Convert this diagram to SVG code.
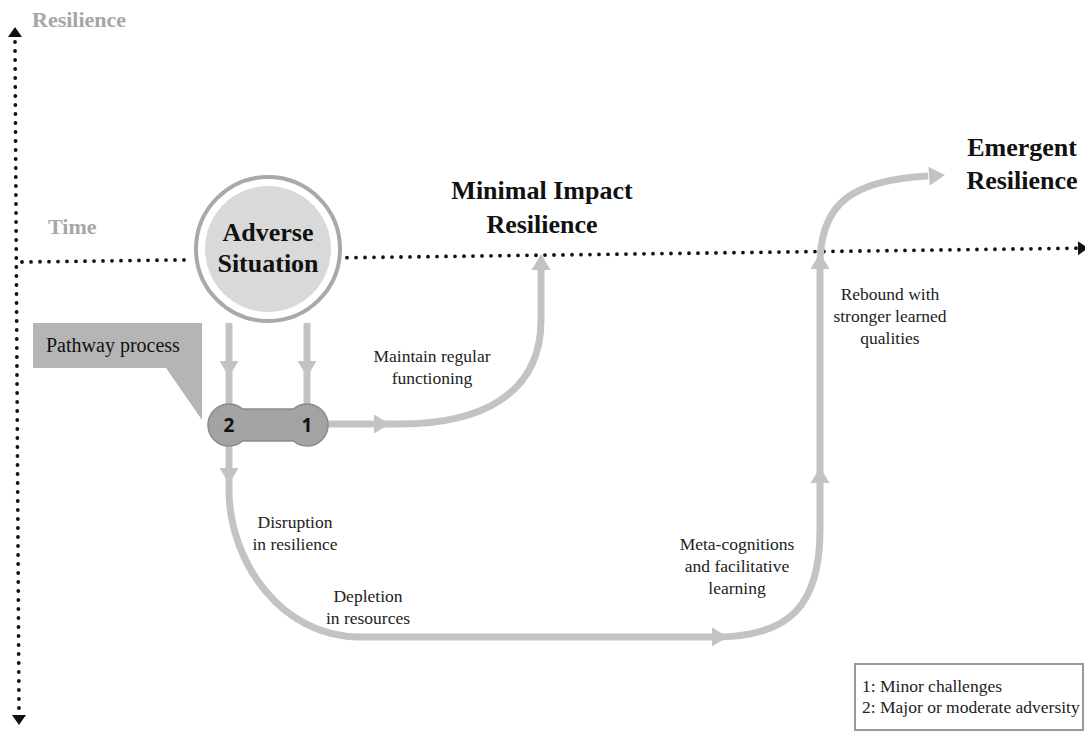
<svg xmlns="http://www.w3.org/2000/svg" width="1085" height="734" viewBox="0 0 1085 734">
  <style>
    .axis{fill:none;stroke:#111;stroke-width:3.8;stroke-linecap:round;stroke-dasharray:0 9}
    .axhead{fill:#111}
    .axlab{font-family:"Liberation Serif","Times New Roman",serif;font-weight:bold;font-size:22px;fill:#a6a6a6}
    .title{font-family:"Liberation Serif","Times New Roman",serif;font-weight:bold;font-size:26px;fill:#111;text-anchor:middle}
    .lbl{font-family:"Liberation Serif","Times New Roman",serif;font-size:17.5px;fill:#222;text-anchor:middle}
    .flow{fill:none;stroke:#c3c3c3;stroke-width:7}
    .head{fill:#c3c3c3}
    .num{font-family:"Open Sans",sans-serif;font-weight:bold;font-size:19px;fill:#111;text-anchor:middle}
    .legend{font-family:"Liberation Serif","Times New Roman",serif;font-size:17.5px;fill:#222}
  </style>
  <defs>
    <path id="ah" d="M0,0 L-16,-9.5 L-16,9.5 Z"/>
    <path id="axh" d="M0,0 L-10,-7 L-10,7 Z"/>
  </defs>

  <!-- axes: resilience (vertical) and time (horizontal) -->
  <g id="axes">
    <path class="axis" d="M15,42 L19,710"/>
    <use href="#axh" class="axhead" transform="translate(15,27) rotate(-90)"/>
    <use href="#axh" class="axhead" transform="translate(19,725) rotate(90)"/>
    <path class="axis" d="M22,262 L190,259.8"/>
    <path class="axis" d="M347,257.7 L1076,248.2"/>
    <use href="#axh" class="axhead" transform="translate(1088,248) rotate(-0.75)"/>
    <text class="axlab" x="32" y="27">Resilience</text>
    <text class="axlab" x="48" y="234">Time</text>
  </g>

  <!-- connectors -->
  <g id="connectors">
    <path class="flow" d="M229,323 V405"/>
    <use href="#ah" class="head" transform="translate(229,377) rotate(90)"/>
    <path class="flow" d="M307,323 V405"/>
    <use href="#ah" class="head" transform="translate(307,377) rotate(90)"/>

    <path class="flow" d="M328,424 H400 C480,424 541,395 541,320 V268"/>
    <use href="#ah" class="head" transform="translate(390,424)"/>
    <use href="#ah" class="head" transform="translate(541,254) rotate(-90)"/>

    <path class="flow" d="M229,446 V490 C229,560 280,637 360,637 H715 C790,637 820,605 820,530 V265 C820,205 850,180 928,176"/>
    <use href="#ah" class="head" transform="translate(229,484) rotate(90)"/>
    <use href="#ah" class="head" transform="translate(728,637)"/>
    <use href="#ah" class="head" transform="translate(820,467) rotate(-90)"/>
    <use href="#ah" class="head" transform="translate(820,253) rotate(-90)"/>
    <use href="#ah" class="head" transform="translate(945,175) rotate(-4)"/>
  </g>

  <!-- starting event -->
  <g id="adverse-situation">
    <circle cx="268" cy="249" r="72" fill="#fff" stroke="#a9a9a9" stroke-width="4"/>
    <circle cx="268" cy="249" r="63" fill="#d9d9d9"/>
    <text class="title" x="268" y="241" font-size="25">Adverse</text>
    <text class="title" x="268" y="272" font-size="25">Situation</text>
  </g>

  <!-- callout box -->
  <g id="pathway-callout">
    <path d="M33,323 H202 V420 L166,368 H33 Z" fill="#b5b5b5"/>
    <text x="46" y="352" font-family="Liberation Serif, Times New Roman, serif" font-size="20" fill="#111">Pathway process</text>
  </g>

  <!-- split node: 2 = major adversity, 1 = minor challenge -->
  <g id="pathway-node">
    <path d="M242.6,409 L293.4,409 A21,21 0 1 1 293.4,441 L242.6,441 A21,21 0 1 1 242.6,409 Z" fill="#a3a3a3" stroke="#8a8a8a" stroke-width="1.5"/>
    <text class="num" x="229" y="432">2</text>
    <text class="num" x="307" y="432">1</text>
  </g>

  <g id="minimal-impact">
    <text class="title" x="542" y="199">Minimal Impact</text>
    <text class="title" x="542" y="233">Resilience</text>
  </g>

  <g id="emergent">
    <text class="title" x="1022" y="156">Emergent</text>
    <text class="title" x="1022" y="189">Resilience</text>
  </g>

  <g id="labels">
    <text class="lbl" x="432" y="362" font-size="16.5">Maintain regular</text>
    <text class="lbl" x="432" y="384" font-size="16.5">functioning</text>
    <text class="lbl" x="295" y="528">Disruption</text>
    <text class="lbl" x="295" y="550">in resilience</text>
    <text class="lbl" x="368" y="602">Depletion</text>
    <text class="lbl" x="368" y="624">in resources</text>
    <text class="lbl" x="737" y="550">Meta-cognitions</text>
    <text class="lbl" x="737" y="572">and facilitative</text>
    <text class="lbl" x="737" y="594">learning</text>
    <text class="lbl" x="890" y="300">Rebound with</text>
    <text class="lbl" x="890" y="322">stronger learned</text>
    <text class="lbl" x="890" y="344">qualities</text>
  </g>

  <g id="legend">
    <rect x="855" y="664" width="228" height="66" fill="#fff" stroke="#999" stroke-width="2"/>
    <text class="legend" x="862" y="692">1: Minor challenges</text>
    <text class="legend" x="862" y="713">2: Major or moderate adversity</text>
  </g>
</svg>
